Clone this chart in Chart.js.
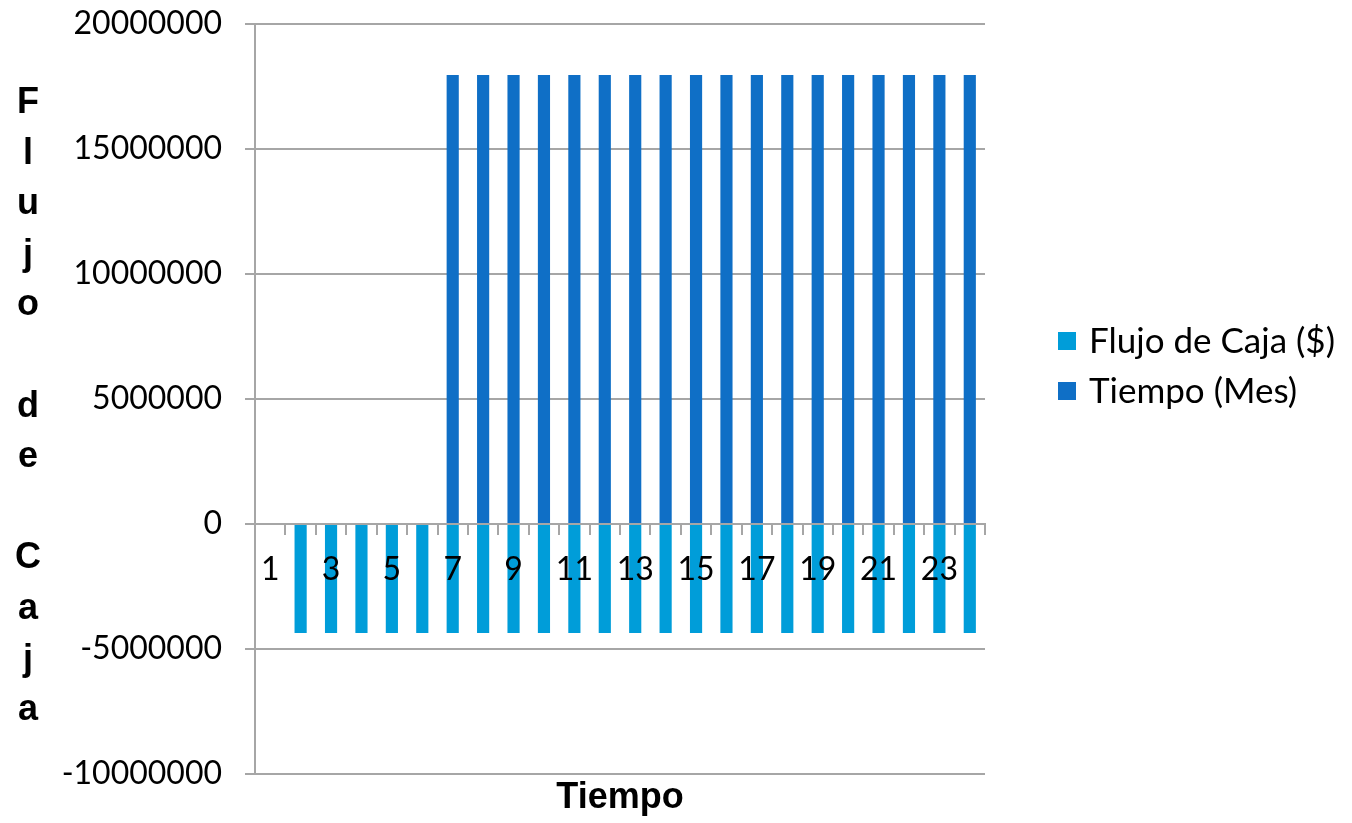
<!DOCTYPE html>
<html>
<head>
<meta charset="utf-8">
<script src="https://cdn.jsdelivr.net/npm/chart.js@4/dist/chart.umd.min.js"></script>
<style>
  html, body { margin: 0; padding: 0; background: #ffffff; }
  #wrap { width: 1352px; height: 823px; }
</style>
</head>
<body>
<div id="wrap"><canvas id="chart" width="1352" height="823"></canvas></div>
<script>
// Months 1..24
const categories = ['1','2','3','4','5','6','7','8','9','10','11','12','13','14','15','16','17','18','19','20','21','22','23','24'];

// Monthly cash flow ($)
const flujoCaja = [0, -4360000, -4360000, -4360000, -4360000, -4360000,
  -4360000, -4360000, -4360000, -4360000, -4360000, -4360000,
  -4360000, -4360000, -4360000, -4360000, -4360000, -4360000,
  -4360000, -4360000, -4360000, -4360000, -4360000, -4360000];

// Second series
const tiempoMes = [0, 0, 0, 0, 0, 0,
  17960000, 17960000, 17960000, 17960000, 17960000, 17960000,
  17960000, 17960000, 17960000, 17960000, 17960000, 17960000,
  17960000, 17960000, 17960000, 17960000, 17960000, 17960000];

const seriesNames = ['Flujo de Caja ($)', 'Tiempo (Mes)'];
const seriesColors = ['#009DD9', '#0F6FC6'];

const yTitle = 'Flujo de Caja';
const xTitle = 'Tiempo';

const AXIS_GREY = '#a6a6a6';
const TICK_FONT = { family: 'Lato', size: 32 };

// Vertical, one-letter-per-line axis title plus the side legend
const sideText = {
  id: 'sideText',
  afterDraw(chart) {
    const ctx = chart.ctx;
    const area = chart.chartArea;
    ctx.save();
    ctx.fillStyle = '#000';
    ctx.font = 'bold 36px "Liberation Sans", Arial, sans-serif';
    ctx.textAlign = 'center';
    ctx.textBaseline = 'alphabetic';
    const step = 50.6;
    const first = area.top + 89;
    [...yTitle].forEach((ch, i) => {
      if (ch.trim()) ctx.fillText(ch, 28, first + i * step);
    });

    // legend
    ctx.font = '35px Lato, sans-serif';
    ctx.textAlign = 'left';
    ctx.textBaseline = 'middle';
    const boxX = 1058, box = 18;
    const cy0 = area.top + 317, gap = 50;
    chart.data.datasets.forEach((ds, i) => {
      const cy = cy0 + i * gap;
      ctx.fillStyle = ds.backgroundColor;
      ctx.fillRect(boxX, cy - box / 2, box, box);
      ctx.fillStyle = '#000';
      ctx.fillText(ds.label, 1089, cy + 1);
    });
    ctx.restore();
  }
};

new Chart(document.getElementById('chart'), {
  type: 'bar',
  data: {
    labels: categories,
    datasets: [
      { label: seriesNames[0], data: flujoCaja, backgroundColor: seriesColors[0],
        categoryPercentage: 1, barPercentage: 0.4 },
      { label: seriesNames[1], data: tiempoMes, backgroundColor: seriesColors[1],
        categoryPercentage: 1, barPercentage: 0.4 }
    ]
  },
  options: {
    responsive: false,
    animation: false,
    devicePixelRatio: 1,
    layout: { padding: { top: 24, right: 367, left: 0, bottom: 0 } },
    plugins: {
      legend: { display: false },
      tooltip: { enabled: false }
    },
    scales: {
      x: {
        type: 'category',
        stacked: true,
        offset: true,
        position: { y: 0 },
        grid: { display: true, drawOnChartArea: false, drawTicks: true, tickLength: 10,
                color: AXIS_GREY, lineWidth: 2, offset: true, z: 1 },
        border: { display: true, color: AXIS_GREY, width: 2, z: 1 },
        ticks: {
          z: 1,
          autoSkip: false, maxRotation: 0, minRotation: 0,
          padding: 16, color: '#000', font: TICK_FONT,
          callback: (v, i) => (i % 2 === 0 ? categories[i] : '')
        }
      },
      xTitle: {
        type: 'category',
        position: 'bottom',
        offset: true,
        grid: { display: false },
        border: { display: false },
        ticks: { display: false },
        title: { display: true, text: xTitle, color: '#000', padding: { top: 0, bottom: 3 },
                 font: { family: 'Liberation Sans', size: 36, weight: 'bold' } },
        afterFit: s => { s.height = 49; }
      },
      y: {
        stacked: true,
        min: -10000000,
        max: 20000000,
        grid: { color: AXIS_GREY, lineWidth: 2, tickLength: 10, drawTicks: true },
        border: { display: true, color: AXIS_GREY, width: 2 },
        ticks: { stepSize: 5000000, padding: 23, color: '#000', font: TICK_FONT,
                 callback: v => String(v) },
        afterFit: s => { s.width = 255; s.paddingTop = 0; s.paddingBottom = 0; }
      }
    }
  },
  plugins: [sideText]
});
</script>
</body>
</html>
